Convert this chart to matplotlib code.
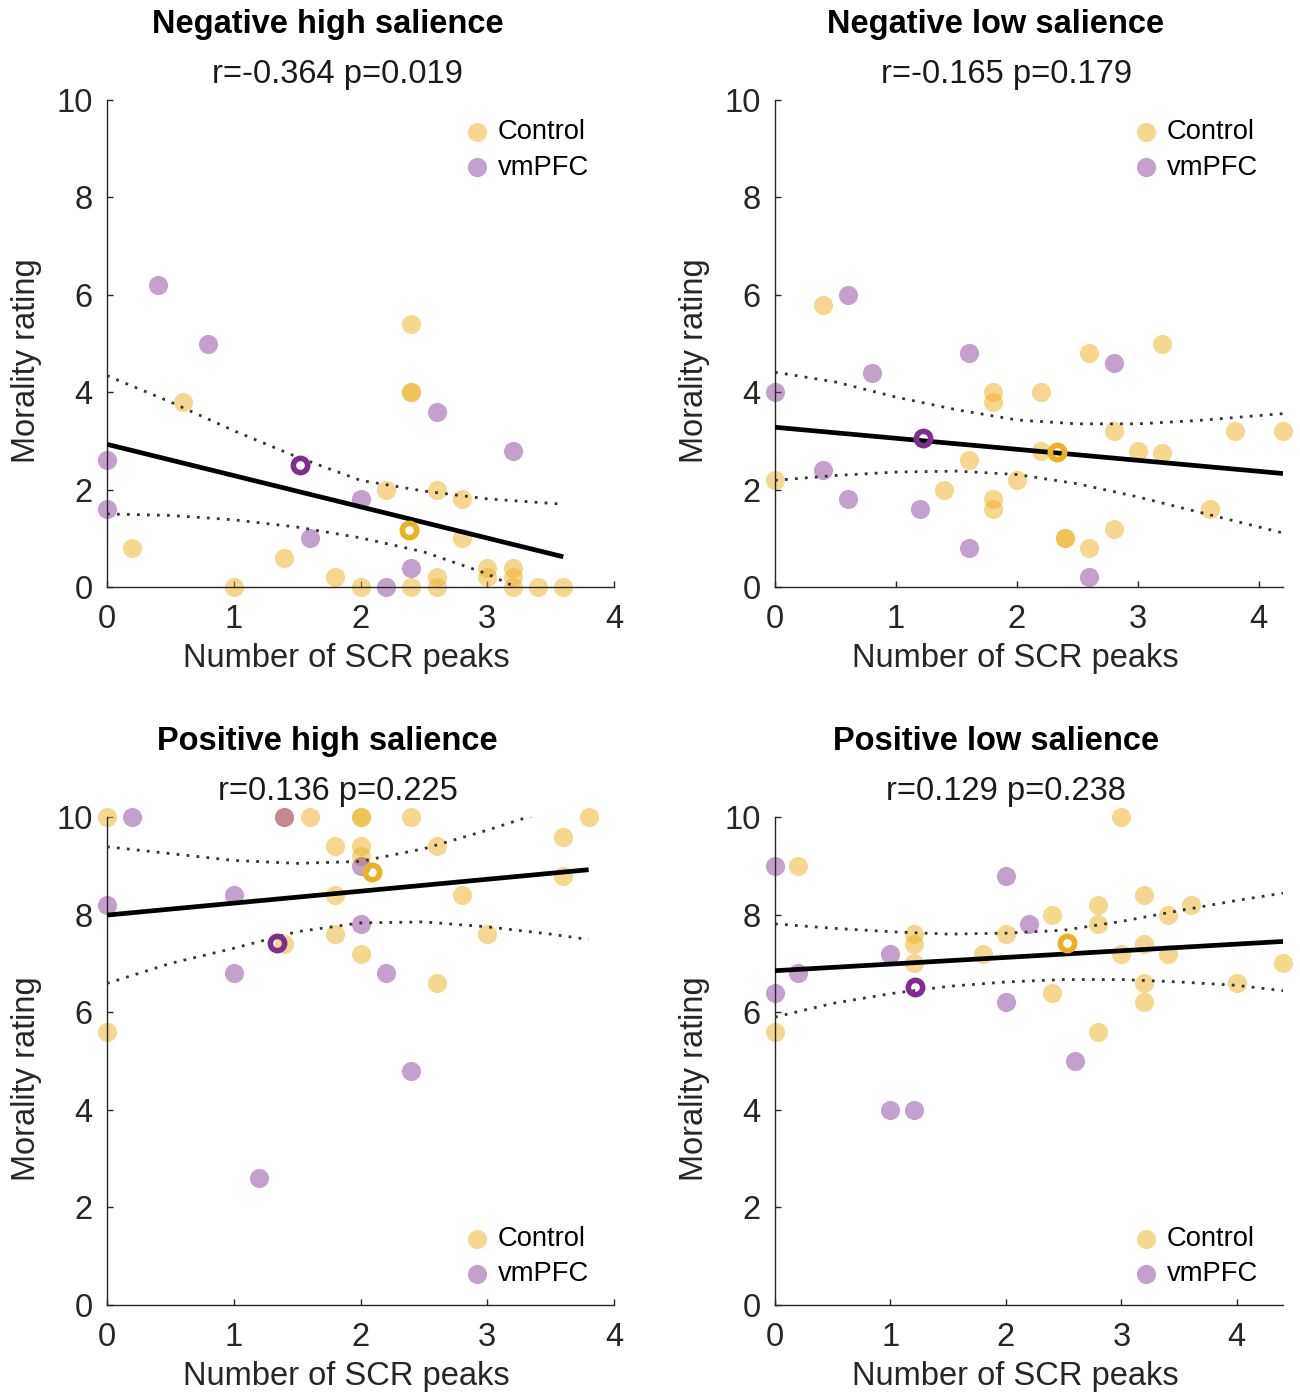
import numpy as np
import matplotlib
matplotlib.use('Agg')
from matplotlib import pyplot as plt

plt.rcParams['font.family'] = ['Liberation Sans', 'DejaVu Sans']

CTRL_COLOR = '#EDB120'
VM_COLOR = '#7E2F8E'
AX_COLOR = '#262626'

titles = ['Negative high salience', 'Negative low salience',
          'Positive high salience', 'Positive low salience']
stats = ['r=-0.364 p=0.019', 'r=-0.165 p=0.179', 'r=0.136 p=0.225', 'r=0.129 p=0.238']
x_limits = [4.0, 4.2, 4.0, 4.4]
legend_pos = ['top', 'top', 'bottom', 'bottom']

# Negative high salience
nh_ctrl_x = [0.2, 0.6, 1.0, 1.4, 1.8, 2.0, 2.2, 2.4, 2.4, 2.4, 2.4, 2.6, 2.6, 2.6, 2.8, 2.8,
             3.0, 3.0, 3.2, 3.2, 3.2, 3.4, 3.6]
nh_ctrl_y = [0.8, 3.8, 0, 0.6, 0.2, 0, 2.0, 5.4, 4.0, 4.0, 0, 2.0, 0.2, 0, 1.8, 1.0,
             0.4, 0.2, 0.4, 0.2, 0, 0, 0]
nh_vm_x = [0, 0, 0.4, 0.8, 1.6, 2.0, 2.2, 2.4, 2.6, 3.2]
nh_vm_y = [2.6, 1.6, 6.2, 5.0, 1.0, 1.8, 0, 0.4, 3.6, 2.8]
nh_means = [(2.38, 1.18), (1.52, 2.51)]
nh_fit_x = [0, 3.6]
nh_fit_y = [2.93, 0.62]
nh_band_x = [0, 0.5, 1.0, 1.5, 2.0, 2.5, 3.0, 3.6]
nh_upper = [4.34, 3.80, 3.21, 2.67, 2.19, 1.97, 1.81, 1.70]
nh_lower = [1.50, 1.47, 1.38, 1.23, 1.01, 0.72, 0.27, -0.46]

# Negative low salience
nl_ctrl_x = [0, 0.4, 1.4, 1.6, 1.8, 1.8, 1.8, 1.8, 2.0, 2.2, 2.2, 2.4, 2.4, 2.6, 2.6, 2.8,
             2.8, 3.0, 3.2, 3.2, 3.6, 3.8, 4.2]
nl_ctrl_y = [2.2, 5.8, 2.0, 2.6, 4.0, 3.8, 1.8, 1.6, 2.2, 4.0, 2.8, 1.0, 1.0, 4.8, 0.8, 3.2,
             1.2, 2.8, 5.0, 2.75, 1.6, 3.2, 3.2]
nl_vm_x = [0, 0.4, 0.6, 0.6, 0.8, 1.2, 1.6, 1.6, 2.6, 2.8]
nl_vm_y = [4.0, 2.4, 6.0, 1.8, 4.4, 1.6, 4.8, 0.8, 0.2, 4.6]
nl_means = [(2.33, 2.77), (1.22, 3.06)]
nl_fit_x = [0, 4.2]
nl_fit_y = [3.28, 2.33]
nl_band_x = [0, 0.5, 1.0, 1.5, 2.0, 2.5, 3.0, 3.5, 4.2]
nl_upper = [4.41, 4.21, 3.90, 3.64, 3.43, 3.35, 3.35, 3.42, 3.56]
nl_lower = [2.19, 2.29, 2.36, 2.38, 2.31, 2.12, 1.85, 1.54, 1.11]

# Positive high salience
ph_ctrl_x = [0, 0, 1.4, 1.4, 1.6, 1.8, 1.8, 1.8, 2.0, 2.0, 2.0, 2.0, 2.0, 2.4, 2.6, 2.6,
             2.8, 3.0, 3.6, 3.6, 3.8]
ph_ctrl_y = [10, 5.6, 10, 7.4, 10, 9.4, 8.4, 7.6, 10, 10, 9.4, 9.2, 7.2, 10, 9.4, 6.6,
             8.4, 7.6, 9.6, 8.8, 10]
ph_vm_x = [0, 0.2, 1.0, 1.0, 1.2, 1.4, 2.0, 2.0, 2.2, 2.4]
ph_vm_y = [8.2, 10, 8.4, 6.8, 2.6, 10, 9.0, 7.8, 6.8, 4.8]
ph_means = [(2.09, 8.88), (1.34, 7.42)]
ph_fit_x = [0, 3.8]
ph_fit_y = [7.99, 8.92]
ph_band_x = [0, 0.5, 1.0, 1.5, 2.0, 2.5, 3.0, 3.5, 3.8]
ph_upper = [9.39, 9.25, 9.11, 9.05, 9.09, 9.35, 9.73, 10.15, 10.4]
ph_lower = [6.59, 7.00, 7.31, 7.65, 7.83, 7.85, 7.75, 7.60, 7.49]

# Positive low salience
pl_ctrl_x = [0, 0.2, 1.2, 1.2, 1.2, 1.8, 2.0, 2.4, 2.4, 2.8, 2.8, 2.8, 3.0, 3.0, 3.2, 3.2,
             3.2, 3.2, 3.4, 3.4, 3.6, 4.0, 4.4]
pl_ctrl_y = [5.6, 9.0, 7.6, 7.4, 7.0, 7.2, 7.6, 8.0, 6.4, 8.2, 7.8, 5.6, 10, 7.2, 8.4, 7.4,
             6.6, 6.2, 8.0, 7.2, 8.2, 6.6, 7.0]
pl_vm_x = [0, 0, 0.2, 1.0, 1.0, 1.2, 2.0, 2.0, 2.2, 2.6]
pl_vm_y = [9.0, 6.4, 6.8, 7.2, 4.0, 4.0, 8.8, 6.2, 7.8, 5.0]
pl_means = [(2.53, 7.41), (1.21, 6.52)]
pl_fit_x = [0, 4.4]
pl_fit_y = [6.85, 7.45]
pl_band_x = [0, 0.5, 1.0, 1.5, 2.0, 2.5, 3.0, 3.5, 4.0, 4.4]
pl_upper = [7.81, 7.72, 7.65, 7.60, 7.62, 7.68, 7.86, 8.08, 8.29, 8.44]
pl_lower = [5.90, 6.18, 6.38, 6.53, 6.62, 6.67, 6.67, 6.62, 6.55, 6.44]

panels = [
    (nh_ctrl_x, nh_ctrl_y, nh_vm_x, nh_vm_y, nh_means, nh_fit_x, nh_fit_y, nh_band_x, nh_upper, nh_lower),
    (nl_ctrl_x, nl_ctrl_y, nl_vm_x, nl_vm_y, nl_means, nl_fit_x, nl_fit_y, nl_band_x, nl_upper, nl_lower),
    (ph_ctrl_x, ph_ctrl_y, ph_vm_x, ph_vm_y, ph_means, ph_fit_x, ph_fit_y, ph_band_x, ph_upper, ph_lower),
    (pl_ctrl_x, pl_ctrl_y, pl_vm_x, pl_vm_y, pl_means, pl_fit_x, pl_fit_y, pl_band_x, pl_upper, pl_lower),
]

W, H = 1300, 1392
# axes boxes in pixels: left, right, top, bottom
boxes = [(107, 614, 100, 587), (775, 1283, 100, 587),
         (107, 614, 817, 1305), (775, 1283, 817, 1305)]

fig = plt.figure(figsize=(W / 100, H / 100), dpi=100)

for i, (cx, cy, vx, vy, means, fx, fy, bx, bu, bl) in enumerate(panels):
    l, r, t, b = boxes[i]
    ax = fig.add_axes([l / W, (H - b) / H, (r - l) / W, (b - t) / H])

    sc1 = ax.scatter(cx, cy, s=190, color=CTRL_COLOR, alpha=0.5, linewidths=0,
                     clip_on=False, zorder=2, label='Control')
    sc2 = ax.scatter(vx, vy, s=190, color=VM_COLOR, alpha=0.45, linewidths=0,
                     clip_on=False, zorder=2, label='vmPFC')

    ax.plot(fx, fy, color='black', lw=3.4, solid_capstyle='butt', zorder=3)
    ax.plot(bx, bu, color='#333333', lw=2.0, linestyle=(0, (1, 2.6)), zorder=3)
    ax.plot(bx, bl, color='#333333', lw=2.0, linestyle=(0, (1, 2.6)), zorder=3)

    ax.plot(*means[0], 'o', ms=10.3, mfc='none', mec=CTRL_COLOR, mew=4.0, zorder=4, clip_on=False)
    ax.plot(*means[1], 'o', ms=10.3, mfc='none', mec=VM_COLOR, mew=4.0, zorder=4, clip_on=False)

    ax.set_xlim(0, x_limits[i])
    ax.set_ylim(0, 10)
    ax.set_xticks([0, 1, 2, 3, 4])
    ax.set_yticks([0, 2, 4, 6, 8, 10])
    for side in ['top', 'right']:
        ax.spines[side].set_visible(False)
    for side in ['left', 'bottom']:
        ax.spines[side].set_color(AX_COLOR)
        ax.spines[side].set_linewidth(1.0)
    ax.tick_params(direction='in', length=4, width=1.0, colors=AX_COLOR, labelsize=23.5)
    ax.tick_params(axis='x', pad=12)
    ax.tick_params(axis='y', pad=10.5)

    ax.set_xlabel('Number of SCR peaks', fontsize=23.5, color=AX_COLOR)
    ax.xaxis.label.set_va('center')
    ax.xaxis.set_label_coords(0.473, -0.146)
    ax.set_ylabel('Morality rating', fontsize=23.5, color=AX_COLOR)
    ax.yaxis.label.set_va('center')
    ax.yaxis.set_label_coords(-0.158, 0.464)

    ax.annotate(titles[i], xy=(0.435, 1.0), xycoords='axes fraction', xytext=(0, 54.5),
                textcoords='offset points', ha='center', va='center',
                fontsize=23.5, fontweight='bold', color='black')
    ax.annotate(stats[i], xy=(0.455, 1.0), xycoords='axes fraction', xytext=(0, 18.5),
                textcoords='offset points', ha='center', va='center',
                fontsize=23.5, color='#1a1a1a')

    if legend_pos[i] == 'top':
        ax.legend(handles=[sc1, sc2], loc='upper left', bbox_to_anchor=(0.709, 0.960),
                  frameon=False, fontsize=19.7, handlelength=0.8, handletextpad=0.35,
                  labelspacing=0.33, borderpad=0, borderaxespad=0, scatterpoints=1)
    else:
        ax.legend(handles=[sc1, sc2], loc='lower left', bbox_to_anchor=(0.709, 0.037),
                  frameon=False, fontsize=19.7, handlelength=0.8, handletextpad=0.35,
                  labelspacing=0.33, borderpad=0, borderaxespad=0, scatterpoints=1)

fig.savefig('out.png', dpi=100)
